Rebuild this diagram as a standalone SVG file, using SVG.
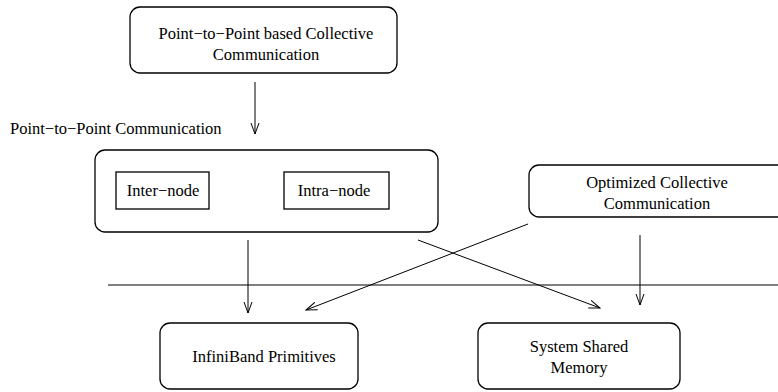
<svg xmlns="http://www.w3.org/2000/svg" width="778" height="392" viewBox="0 0 778 392">
  <style>
    .box { fill: #ffffff; stroke: #000000; stroke-width: 1.3; }
    .edge { fill: none; stroke: #000000; stroke-width: 1; }
    .sep { fill: none; stroke: #555555; stroke-width: 1.3; }
    text { font-family: "Liberation Serif", "Times New Roman", serif; font-size: 16.5px; fill: #000000; }
    .c { text-anchor: middle; }
  </style>
  <defs>
    <marker id="vee" viewBox="0 0 12 10" refX="11" refY="5" markerWidth="12" markerHeight="10" markerUnits="userSpaceOnUse" orient="auto">
      <path d="M0,1 L11,5 L0,9" fill="none" stroke="#000000" stroke-width="1"/>
    </marker>
  </defs>
  <rect width="778" height="392" fill="#ffffff"/>

  <g id="p2p-collective">
    <rect class="box" x="130" y="7" width="267" height="66" rx="10"/>
    <text class="c" x="266" y="39">Point−to−Point based Collective</text>
    <text class="c" x="266" y="60">Communication</text>
  </g>

  <text id="p2p-label" x="10" y="134">Point−to−Point Communication</text>

  <g id="p2p-communication">
    <rect class="box" x="95" y="150" width="343" height="82" rx="10"/>
    <g id="inter-node">
      <rect class="box" x="116" y="172" width="93" height="37"/>
      <text class="c" x="163" y="196">Inter−node</text>
    </g>
    <g id="intra-node">
      <rect class="box" x="284" y="172" width="105" height="37"/>
      <text class="c" x="334" y="196">Intra−node</text>
    </g>
  </g>

  <g id="optimized-collective">
    <rect class="box" x="529" y="165" width="262" height="52" rx="10"/>
    <text class="c" x="657" y="188">Optimized Collective</text>
    <text class="c" x="657" y="209">Communication</text>
  </g>

  <g id="infiniband">
    <rect class="box" x="160" y="323" width="198" height="66" rx="10"/>
    <text class="c" x="264" y="362">InfiniBand Primitives</text>
  </g>

  <g id="shared-memory">
    <rect class="box" x="478" y="323" width="202" height="66" rx="10"/>
    <text class="c" x="579" y="352">System Shared</text>
    <text class="c" x="579" y="373">Memory</text>
  </g>

  <line id="layer-separator" class="sep" x1="108" y1="285" x2="778" y2="285"/>

  <g id="connectors">
    <line class="edge" x1="255" y1="82" x2="255" y2="134" marker-end="url(#vee)"/>
    <line class="edge" x1="248" y1="240" x2="248" y2="313" marker-end="url(#vee)"/>
    <line class="edge" x1="418" y1="240" x2="600" y2="308" marker-end="url(#vee)"/>
    <line class="edge" x1="528" y1="224" x2="306" y2="310" marker-end="url(#vee)"/>
    <line class="edge" x1="640" y1="235" x2="640" y2="305" marker-end="url(#vee)"/>
  </g>
</svg>
